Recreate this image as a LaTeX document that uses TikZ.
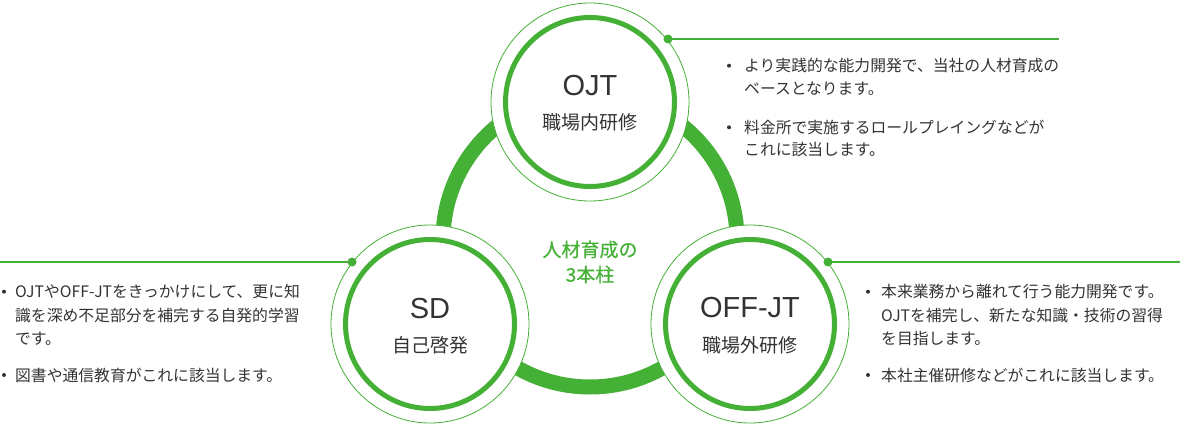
\documentclass[tikz,border=0pt]{standalone}
\usepackage{fontspec}
\setmainfont{Noto Sans CJK JP}
\newfontfamily\latinfont{Liberation Sans}
\newfontfamily\greenfont[FakeBold=0.5]{Noto Sans CJK JP}
\definecolor{grn}{HTML}{44B035}
\definecolor{txt}{HTML}{333333}
\begin{document}
\begin{tikzpicture}[x=1pt,y=-1pt,
  pillar/.style={circle, draw=grn, line width=0.8pt, fill=white, minimum size=198pt, inner sep=0pt},
  ttl/.style={text=txt, font=\latinfont\fontsize{29}{29}\selectfont, inner sep=0pt},
  sub/.style={text=txt, font=\fontsize{19}{19}\selectfont, inner sep=0pt},
  ctr/.style={text=grn, font=\greenfont\fontsize{19}{25}\selectfont, align=center, inner sep=0pt},
  body/.style={text=txt, font=\fontsize{15.8}{15.8}\selectfont, anchor=base west, inner sep=0pt},
  bul/.style={circle, fill=txt, minimum size=4pt, inner sep=0pt},
  conn/.style={draw=grn, line width=1.1pt},
  dot/.style={circle, fill=grn, minimum size=9pt, inner sep=0pt}
]
\useasboundingbox (0,0) rectangle (1180,425);
% big ring
\draw[grn, line width=15pt] (590,240) circle (147pt);
% pillar circles
\node[pillar] (ojt) at (590,102) {};
\node[pillar] (sd) at (430,324) {};
\node[pillar] (off) at (750,324) {};
\foreach \n in {ojt,sd,off}{
  \draw[grn, line width=5pt] (\n.center) circle (84.5pt);
}
% titles
\node[ttl] (ojtT) at (590,86) {OJT};
\node[sub] (ojtS) at (590,122) {職場内研修};
\node[ttl] (sdT) at (430,309) {SD};
\node[sub] (sdS) at (430,345) {自己啓発};
\node[ttl] (offT) at (750,308) {OFF-JT};
\node[sub] (offS) at (750,345) {職場外研修};
% center
\node[ctr] (center) at (590,262) {人材育成の\\3本柱};
% connectors
\coordinate (ojtEnd) at (1059,39);
\coordinate (sdEnd) at (0,262);
\coordinate (offEnd) at (1180,262);
\node[dot] (ojtDot) at (668,39) {};
\node[dot] (sdDot) at (352,262) {};
\node[dot] (offDot) at (828,262) {};
\draw[conn] (ojtDot.center) -- (ojtEnd);
\draw[conn] (sdDot.center) -- (sdEnd);
\draw[conn] (offDot.center) -- (offEnd);
% OJT text
\node[bul] (ob1) at (729,65.7) {};
\node[body] (o1) at (744,71.7) {より実践的な能力開発で、当社の人材育成の};
\node[body] (o2) at (744,95) {ベースとなります。};
\node[bul] (ob2) at (729,127.3) {};
\node[body] (o3) at (744,133.3) {料金所で実施するロールプレイングなどが};
\node[body] (o4) at (744,155) {これに該当します。};
% SD text
\node[bul] (sb1) at (4,291.7) {};
\node[body] (s1) at (15,297.7) {OJTやOFF-JTをきっかけにして、更に知};
\node[body] (s2) at (15,321) {識を深め不足部分を補完する自発的学習};
\node[body] (s3) at (15,344.3) {です。};
\node[bul] (sb2) at (4,375) {};
\node[body] (s4) at (15,381) {図書や通信教育がこれに該当します。};
% OFF-JT text
\node[bul] (fb1) at (868,291.7) {};
\node[body] (f1) at (881,297.7) {本来業務から離れて行う能力開発です。};
\node[body] (f2) at (881,321) {OJTを補完し、新たな知識・技術の習得};
\node[body] (f3) at (881,344.3) {を目指します。};
\node[bul] (fb2) at (868,375) {};
\node[body] (f4) at (881,381) {本社主催研修などがこれに該当します。};
\end{tikzpicture}
\end{document}
